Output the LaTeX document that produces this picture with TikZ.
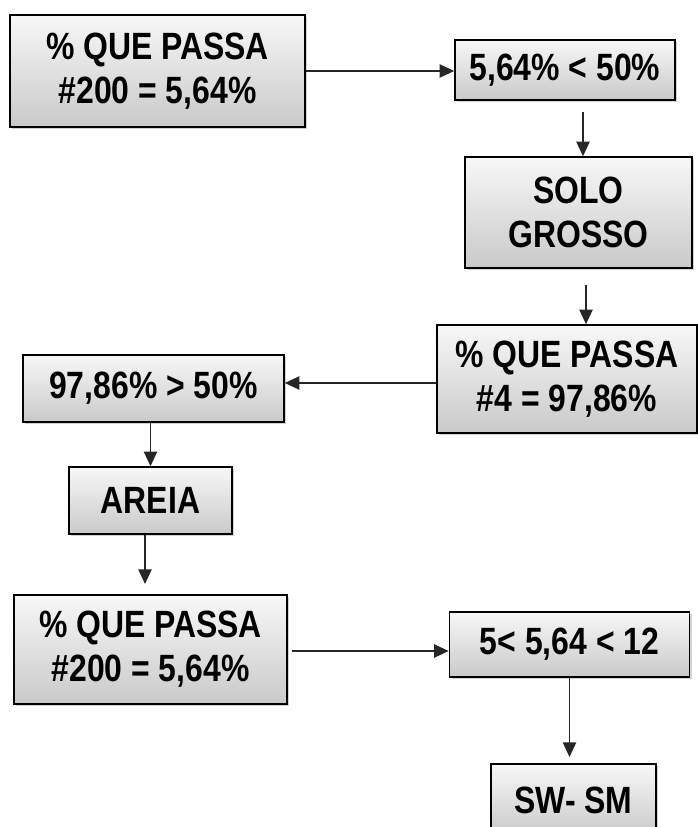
\documentclass[tikz,border=0pt]{standalone}
\usepackage{fontspec}
\newfontfamily\boxfont[FakeStretch=0.84]{Liberation Sans}
\usetikzlibrary{arrows.meta,shadows}

\begin{document}
\begin{tikzpicture}[x=0.75pt,y=-0.75pt,
	box/.style 2 args={draw, line width=1.2pt, top color=gray!6, bottom color=gray!42,
		drop shadow={shadow xshift=1.5pt, shadow yshift=-1.5pt, opacity=.35},
		minimum width=#1*0.75pt, minimum height=#2*0.75pt, inner sep=0pt,
		align=center, font=\boxfont\bfseries\fontsize{28.5}{33}\selectfont},
	link/.style={line width=1.1pt, draw=black!85, -{Triangle[length=11pt,width=10pt]}}]
	\useasboundingbox (0,0) rectangle (698,827);
	\clip (0,0) rectangle (698,827);

	\node[box={295}{112}] (b1) at (157.5,71) {\% QUE PASSA\\\#200 = 5,64\%};
	\node[box={220}{60}] (b2) at (565,70) {5,64\% < 50\%};
	\node[box={227}{111}] (b3) at (578.5,212.5) {SOLO\\GROSSO};
	\node[box={260}{108}] (b4) at (567,379) {\% QUE PASSA\\\#4 = 97,86\%};
	\node[box={261}{67}] (b5) at (153.5,388.5) {97,86\% > 50\%};
	\node[box={163}{67}] (b6) at (150.5,500.5) {AREIA};
	\node[box={273}{109}] (b7) at (150.5,649.5) {\% QUE PASSA\\\#200 = 5,64\%};
	\node[box={240}{65}] (b8) at (569.5,644.5) {5< 5,64 < 12};
	\node[box={165}{72}] (b9) at (573.5,800) {SW- SM};

	\draw[link] (b1.east) -- (b1.east -| b2.west);
	\draw[link] (583,112) coordinate (s23) -- (s23 |- b3.north);
	\draw[link] (586,285) coordinate (s34) -- (s34 |- b4.north);
	\draw[link] (b4.west |- 0,383) coordinate (s45) -- (s45 -| b5.east);
	\draw[link] (b6.north |- b5.south) -- (b6.north);
	\draw[link] (b6.south -| 145,0) coordinate (s67) -- (145,584);
	\draw[link] (292,651) coordinate (s78) -- (s78 -| b8.west);
	\draw[link] (b8.south) -- (b8.south |- 0,757);
\end{tikzpicture}
\end{document}
